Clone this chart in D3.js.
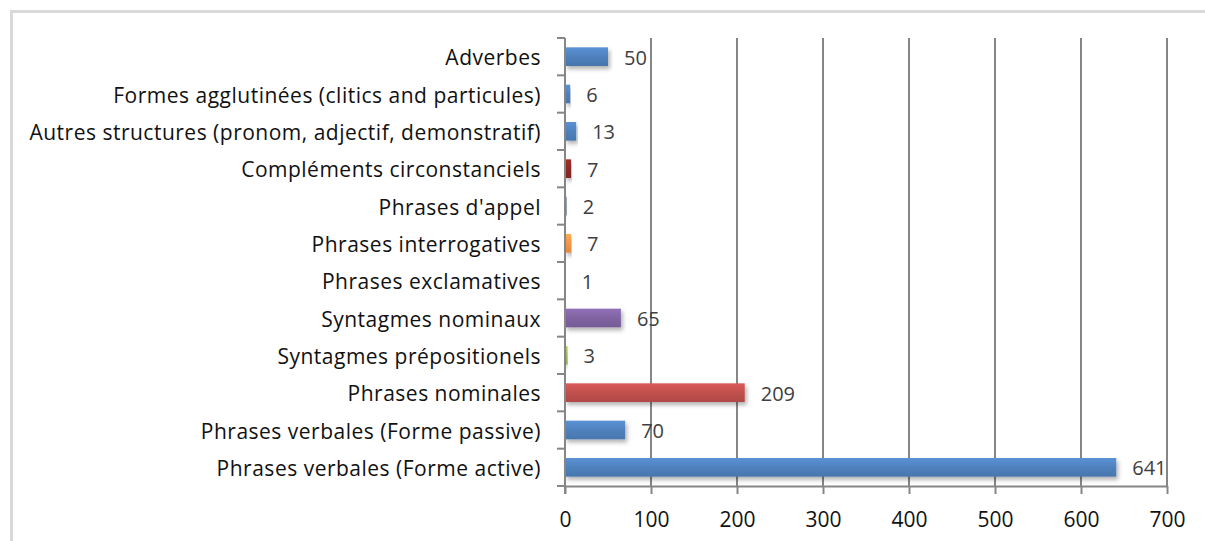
<!DOCTYPE html>
<html>
<head>
<meta charset="utf-8">
<script src="https://cdn.jsdelivr.net/npm/d3@7"></script>
<style>
  html, body { margin: 0; padding: 0; background: #ffffff; }
  svg { display: block; }
  text { font-family: "Open Sans", "Liberation Sans", sans-serif; }
</style>
</head>
<body>
<svg id="chart" width="1205" height="541"></svg>
<script>
// Categories, top to bottom
const categories = [
  "Adverbes",
  "Formes agglutinées (clitics and particules)",
  "Autres structures (pronom, adjectif, demonstratif)",
  "Compléments circonstanciels",
  "Phrases d'appel",
  "Phrases interrogatives",
  "Phrases exclamatives",
  "Syntagmes nominaux",
  "Syntagmes prépositionels",
  "Phrases nominales",
  "Phrases verbales (Forme passive)",
  "Phrases verbales (Forme active)"
];
const counts = [50, 6, 13, 7, 2, 7, 1, 65, 3, 209, 70, 641];
const barColors = [
  "#4f81bd", "#4f81bd", "#4f81bd", "#8e2a24", "#6f7f99", "#f79646",
  "#c6d9f1", "#8064a2", "#9bbb59", "#c0504d", "#4f81bd", "#4f81bd"
];
const xTicks = [0, 100, 200, 300, 400, 500, 600, 700];

const svg = d3.select("#chart");

// Outer frame of the chart area
svg.append("path")
  .attr("d", "M11.5,541 L11.5,11.5 L1205,11.5")
  .attr("fill", "none")
  .attr("stroke", "#d9d9d9")
  .attr("stroke-width", 3);

const plotLeft = 565, plotRight = 1167, plotTop = 38, plotBottom = 486;

const x = d3.scaleLinear().domain([0, 700]).range([plotLeft, plotRight]);
const y = d3.scaleBand().domain(categories).range([plotTop, plotBottom]).paddingInner(0.5).paddingOuter(0.25);

const defs = svg.append("defs");
const shadow = defs.append("filter").attr("id", "shadow")
  .attr("x", "-5%").attr("y", "-30%").attr("width", "115%").attr("height", "190%");
shadow.append("feDropShadow").attr("dx", 2).attr("dy", 3).attr("stdDeviation", 2)
  .attr("flood-color", "#000").attr("flood-opacity", 0.3);

barColors.forEach((c, i) => {
  const g = defs.append("linearGradient").attr("id", "grad" + i)
    .attr("x1", 0).attr("y1", 0).attr("x2", 0).attr("y2", 1);
  g.append("stop").attr("offset", "0%").attr("stop-color", d3.color(c).brighter(0.35));
  g.append("stop").attr("offset", "50%").attr("stop-color", c);
  g.append("stop").attr("offset", "100%").attr("stop-color", d3.color(c).darker(0.25));
});

// Vertical gridlines
svg.append("g")
  .selectAll("line")
  .data(xTicks.slice(1))
  .join("line")
  .attr("x1", d => x(d)).attr("x2", d => x(d))
  .attr("y1", plotTop).attr("y2", plotBottom)
  .attr("stroke", "#868686")
  .attr("stroke-width", 2);

// Bars
svg.append("g")
  .selectAll("rect")
  .data(categories)
  .join("rect")
  .attr("x", x(0))
  .attr("y", d => y(d))
  .attr("width", (d, i) => x(counts[i]) - x(0))
  .attr("height", y.bandwidth())
  .attr("fill", (d, i) => `url(#grad${i})`)
  .attr("filter", "url(#shadow)");

// Bottom axis
const xAxis = svg.append("g")
  .attr("transform", `translate(0,${plotBottom})`)
  .call(d3.axisBottom(x).tickValues(xTicks).tickSize(8).tickPadding(18).tickSizeOuter(0));
xAxis.select(".domain").attr("stroke", "#868686").attr("stroke-width", 2);
xAxis.selectAll(".tick line").attr("stroke", "#868686").attr("stroke-width", 2);
xAxis.selectAll(".tick text")
  .attr("fill", "#111")
  .style("font-size", "21px");

// Left axis with category labels
const yAxis = svg.append("g")
  .attr("transform", `translate(${plotLeft},0)`)
  .call(d3.axisLeft(y).tickSize(0).tickPadding(24));
yAxis.select(".domain").remove();
yAxis.selectAll(".tick text")
  .attr("dy", "0.42em")
  .attr("fill", "#111")
  .style("font-size", "21px")
  .style("letter-spacing", "0.5px");

// Left axis line and category separators
svg.append("line")
  .attr("x1", plotLeft).attr("x2", plotLeft)
  .attr("y1", plotTop).attr("y2", plotBottom + 8)
  .attr("stroke", "#868686").attr("stroke-width", 2);
const sepStep = (plotBottom - plotTop) / categories.length;
svg.append("g")
  .selectAll("line")
  .data(d3.range(categories.length + 1))
  .join("line")
  .attr("x1", plotLeft - 8).attr("x2", plotLeft)
  .attr("y1", i => plotTop + i * sepStep).attr("y2", i => plotTop + i * sepStep)
  .attr("stroke", "#868686").attr("stroke-width", 2);

// Value labels
svg.append("g")
  .selectAll("text")
  .data(categories)
  .join("text")
  .attr("x", (d, i) => x(counts[i]) + 16)
  .attr("y", d => y(d) + y.bandwidth() / 2)
  .attr("dy", "0.4em")
  .attr("fill", "#404040")
  .style("font-size", "20px")
  .text((d, i) => counts[i]);
</script>
</body>
</html>
